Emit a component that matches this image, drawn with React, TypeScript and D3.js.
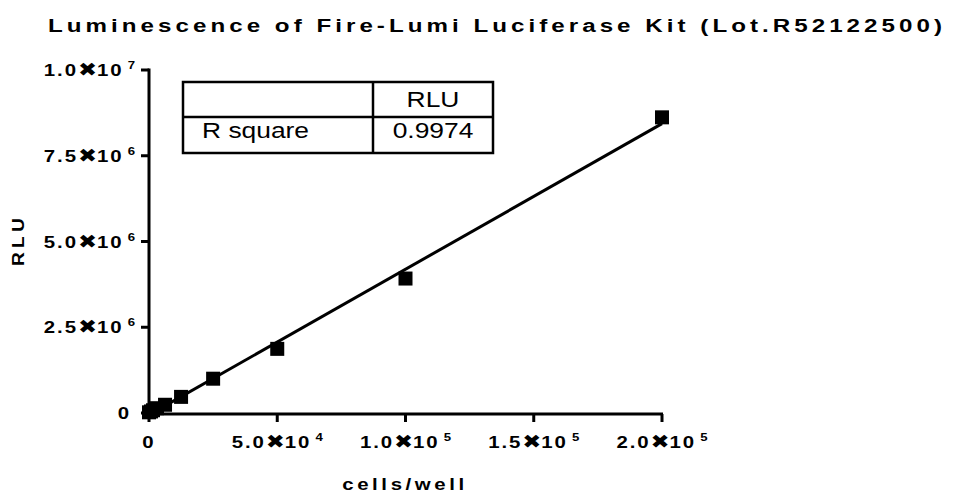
import React from "react";
import * as d3 from "d3";

const cells = [0, 781, 1563, 3125, 6250, 12500, 25000, 50000, 100000, 200000];
const rlu = [20000, 45000, 80000, 140000, 240000, 470000, 1000000, 1870000, 3920000, 8620000];

const xTicks = [0, 50000, 100000, 150000, 200000];
const xTickLabels = [["0", "", ""], ["5.0", "10", "4"], ["1.0", "10", "5"], ["1.5", "10", "5"], ["2.0", "10", "5"]];
const yTicks = [0, 2500000, 5000000, 7500000, 10000000];
const yTickLabels = [["0", "", ""], ["2.5", "10", "6"], ["5.0", "10", "6"], ["7.5", "10", "6"], ["1.0", "10", "7"]];

const tableRows = [["", "RLU"], ["R square", "0.9974"]];

const FONT = "'Liberation Sans', Arial, sans-serif";
const SX = 1.2; // the original output is stretched sideways

const TickLabel: React.FC<{ parts: string[]; x: number; y: number; anchor: string }> = ({ parts, x, y, anchor }) => (
  <text
    transform={`translate(${x},${y}) scale(${SX},1)`}
    textAnchor={anchor}
    fontFamily={FONT}
    fontWeight="bold"
    fontSize={17}
    letterSpacing={1.6}
    fill="#000"
  >
    {parts[0]}
    {parts[1] && (
      <>
        <tspan fontFamily="'DejaVu Sans', sans-serif" fontSize={19} letterSpacing={0}>✖</tspan>
        <tspan>{parts[1]}</tspan>
        <tspan fontSize={11} dy={-7} dx={3.5}>{parts[2]}</tspan>
      </>
    )}
  </text>
);

const App: React.FC = () => {
  const x = d3.scaleLinear().domain([0, 200000]).range([149, 662]);
  const y = d3.scaleLinear().domain([0, 10000000]).range([413, 70]);

  // least squares fit
  const mx = d3.mean(cells) || 0;
  const my = d3.mean(rlu) || 0;
  const sxy = d3.sum(cells, (c, i) => (c - mx) * (rlu[i] - my));
  const sxx = d3.sum(cells, (c) => (c - mx) ** 2);
  const slope = sxy / sxx;
  const icpt = my - slope * mx;
  const fit = d3.line<number>().x((c) => x(c)).y((c) => y(icpt + slope * c));

  const tx0 = 183, tx1 = 373, tx2 = 493, ty0 = 82, ty1 = 117, ty2 = 153;

  return (
    <svg width={954} height={495} style={{ position: "absolute", left: 0, top: 0, background: "#fff" }}>
      <text
        x={48}
        y={32}
        fontFamily={FONT}
        fontWeight="bold"
        fontSize={18}
        letterSpacing={3}
        textLength={898}
        lengthAdjust="spacingAndGlyphs"
      >
        Luminescence of Fire-Lumi Luciferase Kit (Lot.R52122500)
      </text>

      {/* axes */}
      <line x1={149} x2={149} y1={68.5} y2={415} stroke="#000" strokeWidth={3} />
      <line x1={147.5} x2={663} y1={414} y2={414} stroke="#000" strokeWidth={3} />
      {yTicks.map((t, i) => (
        <g key={"y" + t}>
          <line x1={141} x2={149} y1={y(t)} y2={y(t)} stroke="#000" strokeWidth={3} />
          <TickLabel parts={yTickLabels[i]} x={i === 0 ? 131 : 137} y={y(t) + 6} anchor="end" />
        </g>
      ))}
      {xTicks.map((t, i) => (
        <g key={"x" + t}>
          <line x1={x(t)} x2={x(t)} y1={414} y2={422} stroke="#000" strokeWidth={3} />
          <TickLabel parts={xTickLabels[i]} x={x(t) + (i === 0 ? 0 : 1)} y={448} anchor="middle" />
        </g>
      ))}

      <text
        transform={`translate(405,490) scale(${SX},1)`}
        textAnchor="middle"
        fontFamily={FONT}
        fontWeight="bold"
        fontSize={17}
        letterSpacing={3}
      >
        cells/well
      </text>
      <text
        transform={`translate(24,240) rotate(-90) scale(${SX},1)`}
        textAnchor="middle"
        fontFamily={FONT}
        fontWeight="bold"
        fontSize={16}
        letterSpacing={3.5}
      >
        RLU
      </text>

      {/* fit line */}
      <path d={fit([0, 200000]) || ""} fill="none" stroke="#000" strokeWidth={3} />

      {/* points */}
      {cells.map((c, i) => (
        <rect key={i} x={x(c) - 7} y={y(rlu[i]) - 7} width={14} height={14} fill="#000" />
      ))}

      {/* results table */}
      <rect x={tx0} y={ty0} width={tx2 - tx0} height={ty2 - ty0} fill="#fff" stroke="#000" strokeWidth={2.5} />
      <line x1={tx0} x2={tx2} y1={ty1} y2={ty1} stroke="#000" strokeWidth={2.5} />
      <line x1={tx1} x2={tx1} y1={ty0} y2={ty2} stroke="#000" strokeWidth={2.5} />
      <g fontFamily={FONT} fontSize={22}>
        <text transform={`translate(${tx0 + 10},${ty1 - 10}) scale(${SX},1)`}>{tableRows[0][0]}</text>
        <text transform={`translate(${(tx1 + tx2) / 2},${ty1 - 10}) scale(${SX},1)`} textAnchor="middle">{tableRows[0][1]}</text>
        <text transform={`translate(${tx0 + 19},${ty2 - 15}) scale(${SX},1)`}>{tableRows[1][0]}</text>
        <text transform={`translate(${(tx1 + tx2) / 2},${ty2 - 15}) scale(${SX},1)`} textAnchor="middle">{tableRows[1][1]}</text>
      </g>
    </svg>
  );
};

export default App;
